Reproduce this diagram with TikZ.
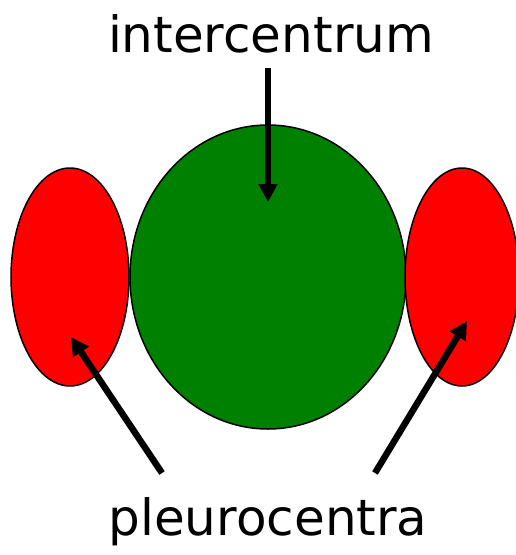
\documentclass[tikz,border=0pt]{standalone}
\usepackage{fontspec}
\setmainfont{DejaVu Sans}
\usetikzlibrary{positioning,arrows.meta}
\usetikzlibrary{shapes.geometric}

\begin{document}
\begin{tikzpicture}[x=1pt,y=-1pt,
    centro/.style={ellipse,draw=black,line width=1.5pt,inner sep=0pt},
    freccia/.style={line width=6.5pt,-{Triangle[length=18pt,width=18pt]}},
    etichetta/.style={font=\fontsize{50}{52}\selectfont,inner sep=0pt}]
  \useasboundingbox (0,0) rectangle (516,555);

  % corpi vertebrali
  \node[centro,fill={rgb,255:red,0;green,128;blue,0},minimum width=276pt,minimum height=304pt] (inter) at (268,277) {};
  \node[centro,fill=red,minimum width=118pt,minimum height=218pt] (pleuroL) at (70,277) {};
  \node[centro,fill=red,minimum width=114pt,minimum height=218pt] (pleuroR) at (462,277) {};

  % etichette
  \node[etichetta,anchor=base] (tinter) at (271,52) {intercentrum};
  \node[etichetta,anchor=base] (tpleuro) at (268,535) {pleurocentra};

  % frecce
  \coordinate (a1) at (268,68);
  \coordinate (b1) at (268,202);
  \coordinate (a2) at (162,473);
  \coordinate (b2) at (71,337);
  \coordinate (a3) at (375,473);
  \coordinate (b3) at (467,321);
  \draw[freccia] (a1) -- (b1);
  \draw[freccia] (a2) -- (b2);
  \draw[freccia] (a3) -- (b3);
\end{tikzpicture}
\end{document}
